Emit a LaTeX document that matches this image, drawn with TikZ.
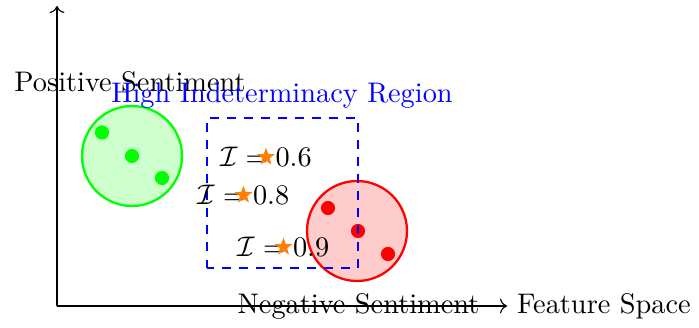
\documentclass[tikz,border=0pt]{standalone}
\usepackage{amsmath, amssymb}
\usetikzlibrary{arrows.meta, positioning, shapes.geometric}

\begin{document}
\begin{tikzpicture}[x=0.62cm, y=0.62cm,
		cluster/.style={draw, thick, circle, minimum size=2*0.62cm, inner sep=0pt},
		pt/.style={circle, inner sep=0pt, minimum size=5pt},
		zone/.style={draw=blue, thick, dashed},
		mk/.style={star, star points=5, star point ratio=2.4, fill=orange,
			inner sep=0pt, minimum size=6.5pt}
	]
	% keep the page the size of the reference, margins included
	\useasboundingbox (-1.14,-0.42) rectangle (12.84,6.12);

	% axes (labels first, the x axis runs through its label)
	\node (poslab) at (1.46,4.48) {Positive Sentiment};
	\node (neglab) at (6.03,0) {Negative Sentiment};
	\coordinate (orig) at (0,0);
	\coordinate (xend) at (9,0);
	\coordinate (yend) at (0,6);
	\draw[->] (orig) -- (xend) node[right] (xlab) {Feature Space};
	\draw[->] (orig) -- (yend);

	% the two clusters
	\node[cluster, green, fill=green!20] (pos) at (1.5,3) {};
	\node[pt, fill=green] (p1) at (0.9,3.47) {};
	\node[pt, fill=green] (p2) at (1.5,3) {};
	\node[pt, fill=green] (p3) at (2.1,2.56) {};

	\node[cluster, red, fill=red!20] (neg) at (6,1.5) {};
	\node[pt, fill=red] (n1) at (5.42,1.96) {};
	\node[pt, fill=red] (n2) at (6.02,1.5) {};
	\node[pt, fill=red] (n3) at (6.62,1.04) {};

	% region in between
	\draw[zone] (3,0.76) rectangle (6.02,3.76);
	\node[text=blue] (zonelab) at (4.5,4.2) {High Indeterminacy Region};

	% indeterminacy values, star on top of each label
	\node (i1) at (4.18,2.98) {$\mathcal{I} = 0.6$};
	\node (i2) at (3.73,2.22) {$\mathcal{I} = 0.8$};
	\node (i3) at (4.53,1.18) {$\mathcal{I} = 0.9$};
	\node[mk] (s1) at (i1) {};
	\node[mk] (s2) at (i2) {};
	\node[mk] (s3) at (i3) {};
\end{tikzpicture}
\end{document}
